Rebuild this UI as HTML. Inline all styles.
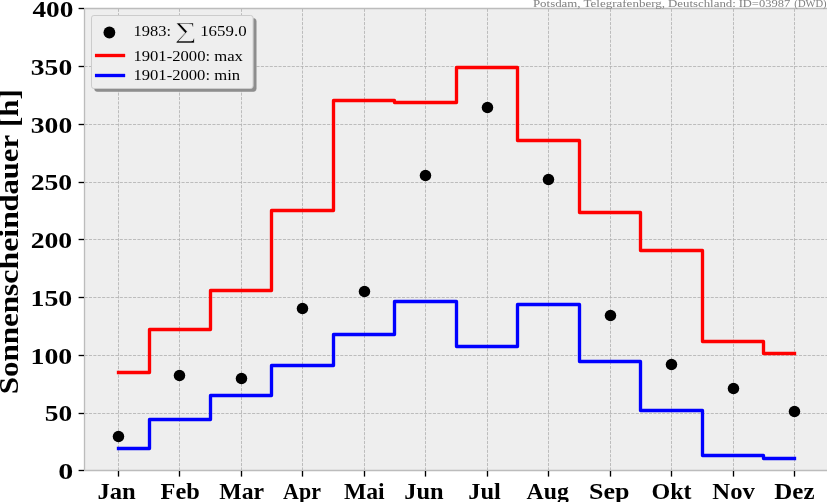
<!DOCTYPE html>
<html lang="de"><head><meta charset="utf-8"><title>Sonnenscheindauer Potsdam 1983</title>
<style>html,body{margin:0;padding:0;background:#ffffff;overflow:hidden}body{width:827px;height:502px}svg{display:block;will-change:transform}text{font-family:"Liberation Serif",serif;fill:#000}.b{font-weight:bold}</style>
</head><body>
<svg width="827" height="502" viewBox="0 0 827 502">
<rect x="0" y="0" width="827" height="502" fill="#ffffff"/>
<rect x="84.5" y="8.5" width="760" height="462" fill="#eeeeee"/>
<g stroke="#b2b2b2" stroke-width="0.83" stroke-dasharray="3.08 1.33" fill="none">
<path d="M118.5 470.5V8.5"/>
<path d="M179.5 470.5V8.5"/>
<path d="M241.5 470.5V8.5"/>
<path d="M302.5 470.5V8.5"/>
<path d="M364.5 470.5V8.5"/>
<path d="M425.5 470.5V8.5"/>
<path d="M487.5 470.5V8.5"/>
<path d="M548.5 470.5V8.5"/>
<path d="M610.5 470.5V8.5"/>
<path d="M671.5 470.5V8.5"/>
<path d="M733.5 470.5V8.5"/>
<path d="M794.5 470.5V8.5"/>
<path d="M84.5 66.5H830"/>
<path d="M84.5 124.5H830"/>
<path d="M84.5 182.5H830"/>
<path d="M84.5 239.5H830"/>
<path d="M84.5 297.5H830"/>
<path d="M84.5 355.5H830"/>
<path d="M84.5 413.5H830"/>
</g>
<path d="M118.5 372.5 H149.5 V329.5 H210.5 V290.5 H271.5 V210.5 H333.5 V100.5 H394.5 V102.5 H456.5 V67.5 H517.5 V140.5 H579.5 V212.5 H640.5 V250.5 H702.5 V341.5 H763.5 V353.5 H794.5" fill="none" stroke="#ff0000" stroke-width="3.33" stroke-linejoin="round" stroke-linecap="square"/>
<path d="M118.5 448.5 H149.5 V419.5 H210.5 V395.5 H271.5 V365.5 H333.5 V334.5 H394.5 V301.5 H456.5 V346.5 H517.5 V304.5 H579.5 V361.5 H640.5 V410.5 H702.5 V455.5 H763.5 V458.5 H794.5" fill="none" stroke="#0000ff" stroke-width="3.33" stroke-linejoin="round" stroke-linecap="square"/>
<g fill="#000000">
<circle cx="118.5" cy="436.5" r="5.75"/>
<circle cx="179.5" cy="375.5" r="5.75"/>
<circle cx="241.5" cy="378.5" r="5.75"/>
<circle cx="302.5" cy="308.5" r="5.75"/>
<circle cx="364.5" cy="291.5" r="5.75"/>
<circle cx="425.5" cy="175.5" r="5.75"/>
<circle cx="487.5" cy="107.5" r="5.75"/>
<circle cx="548.5" cy="179.5" r="5.75"/>
<circle cx="610.5" cy="315.5" r="5.75"/>
<circle cx="671.5" cy="364.5" r="5.75"/>
<circle cx="733.5" cy="388.5" r="5.75"/>
<circle cx="794.5" cy="411.5" r="5.75"/>
</g>
<path d="M830 8.5H84.5V470.5H830" fill="none" stroke="#bcbcbc" stroke-width="1.33" stroke-linejoin="miter"/>
<g stroke="#000000" stroke-width="1.33" fill="none">
<path d="M118.5 471V476.6"/>
<path d="M179.5 471V476.6"/>
<path d="M241.5 471V476.6"/>
<path d="M302.5 471V476.6"/>
<path d="M364.5 471V476.6"/>
<path d="M425.5 471V476.6"/>
<path d="M487.5 471V476.6"/>
<path d="M548.5 471V476.6"/>
<path d="M610.5 471V476.6"/>
<path d="M671.5 471V476.6"/>
<path d="M733.5 471V476.6"/>
<path d="M794.5 471V476.6"/>
<path d="M78.6 8.5H84"/>
<path d="M78.6 66.5H84"/>
<path d="M78.6 124.5H84"/>
<path d="M78.6 182.5H84"/>
<path d="M78.6 239.5H84"/>
<path d="M78.6 297.5H84"/>
<path d="M78.6 355.5H84"/>
<path d="M78.6 413.5H84"/>
<path d="M78.6 470.5H84"/>
</g>
<g class="b" font-size="22.8" text-anchor="end">
<text x="73.38" y="16.75" textLength="40.98" lengthAdjust="spacingAndGlyphs">400</text>
<text x="72.23" y="74.85" textLength="41.40" lengthAdjust="spacingAndGlyphs">350</text>
<text x="72.23" y="132.85" textLength="41.40" lengthAdjust="spacingAndGlyphs">300</text>
<text x="72.24" y="189.85" textLength="41.58" lengthAdjust="spacingAndGlyphs">250</text>
<text x="72.24" y="247.85" textLength="41.58" lengthAdjust="spacingAndGlyphs">200</text>
<text x="72.23" y="305.85" textLength="41.75" lengthAdjust="spacingAndGlyphs">150</text>
<text x="72.23" y="363.85" textLength="41.75" lengthAdjust="spacingAndGlyphs">100</text>
<text x="72.28" y="420.85" textLength="27.45" lengthAdjust="spacingAndGlyphs">50</text>
<text x="73.40" y="478.85" textLength="15.03" lengthAdjust="spacingAndGlyphs">0</text>
</g>
<g class="b" font-size="23.8" text-anchor="middle">
<text x="116.6" y="498.8" textLength="38.3" lengthAdjust="spacingAndGlyphs">Jan</text>
<text x="180.2" y="498.8" textLength="39.2" lengthAdjust="spacingAndGlyphs">Feb</text>
<text x="241.7" y="498.8" textLength="44.8" lengthAdjust="spacingAndGlyphs">Mar</text>
<text x="302.0" y="498.8" textLength="37.8" lengthAdjust="spacingAndGlyphs">Apr</text>
<text x="364.3" y="498.8" textLength="40.8" lengthAdjust="spacingAndGlyphs">Mai</text>
<text x="423.9" y="498.8" textLength="39.4" lengthAdjust="spacingAndGlyphs">Jun</text>
<text x="484.6" y="498.8" textLength="32.6" lengthAdjust="spacingAndGlyphs">Jul</text>
<text x="547.7" y="498.8" textLength="42.2" lengthAdjust="spacingAndGlyphs">Aug</text>
<text x="609.3" y="498.8" textLength="40.4" lengthAdjust="spacingAndGlyphs">Sep</text>
<text x="671.5" y="498.8" textLength="40.1" lengthAdjust="spacingAndGlyphs">Okt</text>
<text x="733.6" y="498.8" textLength="42.6" lengthAdjust="spacingAndGlyphs">Nov</text>
<text x="794.4" y="498.8" textLength="40.2" lengthAdjust="spacingAndGlyphs">Dez</text>
</g>
<text class="b" font-size="26.4" transform="translate(17.8 0) rotate(-90)"><tspan x="-394.39" textLength="98.49" lengthAdjust="spacingAndGlyphs">Sonnen</tspan><tspan x="-296.18" textLength="85.08" lengthAdjust="spacingAndGlyphs">schein</tspan><tspan x="-211.55" textLength="76.61" lengthAdjust="spacingAndGlyphs">dauer</tspan><tspan x="-126.91" textLength="37.73" lengthAdjust="spacingAndGlyphs">[h]</tspan></text>
<text y="6.9" font-size="11" style="fill:#808080"><tspan x="532.94" textLength="47.66" lengthAdjust="spacingAndGlyphs">Potsdam,</tspan> <tspan x="583.49" textLength="81.53" lengthAdjust="spacingAndGlyphs">Telegrafenberg,</tspan> <tspan x="667.94" textLength="67.92" lengthAdjust="spacingAndGlyphs">Deutschland:</tspan> <tspan x="738.66" textLength="51.51" lengthAdjust="spacingAndGlyphs">ID=03987</tspan> <tspan x="794.36" textLength="32.29" lengthAdjust="spacingAndGlyphs">(DWD)</tspan></text>
<rect x="94.6" y="18.45" width="161.6" height="73" rx="2.6" ry="2.6" fill="#8e8e8e" stroke="#858585" stroke-width="0.5"/>
<rect x="91.5" y="15.5" width="161.6" height="73" rx="2.4" ry="2.4" fill="#eeeeee" stroke="#cccccc" stroke-width="1"/>
<circle cx="109.4" cy="32.5" r="5.9" fill="#000"/>
<path d="M96.6 55.5H123.5" stroke="#ff0000" stroke-width="3.33" stroke-linecap="square"/>
<path d="M96.6 75.5H123.5" stroke="#0000ff" stroke-width="3.33" stroke-linecap="square"/>
<text font-size="14.4" y="35.7"><tspan x="133.6" textLength="37.5" lengthAdjust="spacingAndGlyphs">1983:</tspan><tspan x="174.8" y="37.6" font-size="22.5" textLength="21.9" lengthAdjust="spacingAndGlyphs" stroke="#eeeeee" stroke-width="0.5">∑</tspan><tspan x="200.2" y="35.7" textLength="46.4" lengthAdjust="spacingAndGlyphs">1659.0</tspan></text>
<text font-size="14.4" x="133.4" y="60.6" textLength="109.5" lengthAdjust="spacingAndGlyphs">1901-2000: max</text>
<text font-size="14.4" x="133.4" y="80.0" textLength="106.7" lengthAdjust="spacingAndGlyphs">1901-2000: min</text>
</svg>
</body></html>
